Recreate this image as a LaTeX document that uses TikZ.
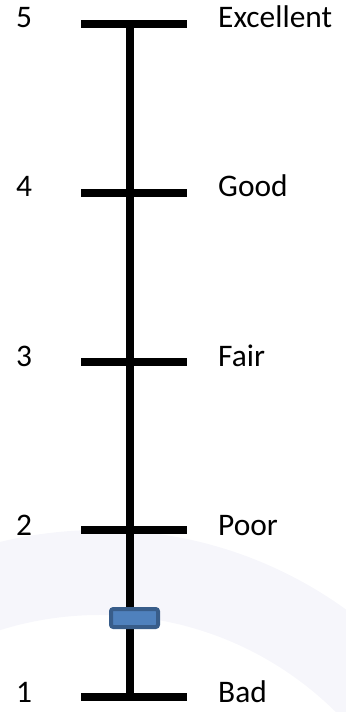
\documentclass[tikz,border=0pt]{standalone}
\usepackage{fontspec}
\setmainfont{Carlito}
\usepackage{tikz}
\usetikzlibrary{positioning}
\definecolor{wmark}{RGB}{246,246,251}
\definecolor{sliderfill}{RGB}{79,129,189}
\definecolor{sliderline}{RGB}{56,93,138}

\begin{document}
\begin{tikzpicture}[
    x=0.03cm, y=-0.03cm,
    axis/.style={line width=0.225cm, draw=black},
    tickbar/.style={line width=0.215cm, draw=black},
    num/.style={anchor=base west, inner sep=0pt, font=\fontsize{26.8}{30}\selectfont},
    rating/.style={anchor=base west, inner sep=0pt, font=\fontsize{26.8}{30}\selectfont},
    slider/.style={rectangle, rounded corners=2pt, draw=sliderline, fill=sliderfill, line width=0.12cm, minimum width=1.41cm, minimum height=0.54cm, inner sep=0pt}
]
\useasboundingbox (0,0) rectangle (346,712);

% Faint background ring
\begin{scope}
\clip (0,0) rectangle (346,712);
\fill[wmark, even odd rule] (100,950) circle[radius=12.6cm] (100,950) circle[radius=10.05cm];
\end{scope}

% Tick ends
\coordinate (t5l) at (81,24);  \coordinate (t5) at (130,24);  \coordinate (t5r) at (187,24);
\coordinate (t4l) at (81,193); \coordinate (t4) at (130,193); \coordinate (t4r) at (187,193);
\coordinate (t3l) at (81,362); \coordinate (t3) at (130,362); \coordinate (t3r) at (187,362);
\coordinate (t2l) at (81,530); \coordinate (t2) at (130,530); \coordinate (t2r) at (187,530);
\coordinate (t1l) at (81,697); \coordinate (t1) at (130,697); \coordinate (t1r) at (187,697);

% Scale
\draw[axis] (t5) -- (t1);
\draw[tickbar] (t5l) -- (t5r);
\draw[tickbar] (t4l) -- (t4r);
\draw[tickbar] (t3l) -- (t3r);
\draw[tickbar] (t2l) -- (t2r);
\draw[tickbar] (t1l) -- (t1r);

% Numbers
\node[num] (n5) at (16,28) {5};
\node[num] (n4) at (16,197) {4};
\node[num] (n3) at (16,366) {3};
\node[num] (n2) at (16,535) {2};
\node[num] (n1) at (16,702) {1};

% Ratings
\node[rating] (excellent) at (218,28) {Excellent};
\node[rating] (good) at (218,197) {Good};
\node[rating] (fair) at (218,366) {Fair};
\node[rating] (poor) at (218,535) {Poor};
\node[rating] (bad) at (218,702) {Bad};

% Slider
\node[slider] (mark) at (134.5,618) {};

\end{tikzpicture}
\end{document}
